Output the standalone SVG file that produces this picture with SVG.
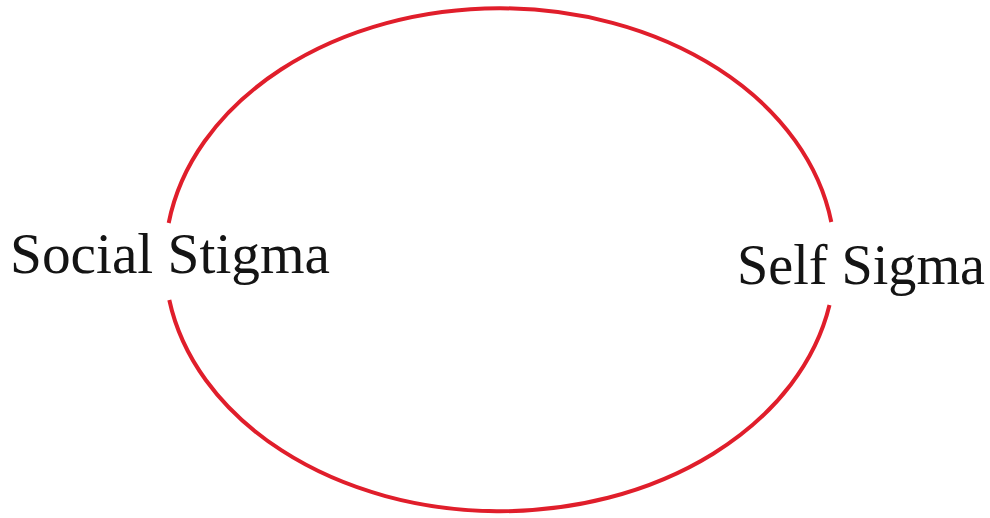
<svg xmlns="http://www.w3.org/2000/svg" width="990" height="518" viewBox="0 0 990 518">
<style>
.ring{fill:none;stroke:#e01e2b;stroke-width:4}
.lbl{font-family:"Liberation Serif","DejaVu Serif",serif;font-size:56px;fill:#141414}
</style>
<rect width="990" height="518" fill="#fff"/>
<g id="connectors">
<path class="ring" d="M168.7,223 A335,251.5 0 0 1 831.3,222"/>
<path class="ring" d="M829.5,305 A335,251.5 0 0 1 169.3,300"/>
</g>
<g id="social-stigma"><text class="lbl" x="10" y="273" textLength="320" lengthAdjust="spacingAndGlyphs">Social Stigma</text></g>
<g id="self-sigma"><text class="lbl" x="737" y="284" textLength="248" lengthAdjust="spacingAndGlyphs">Self Sigma</text></g>
</svg>
